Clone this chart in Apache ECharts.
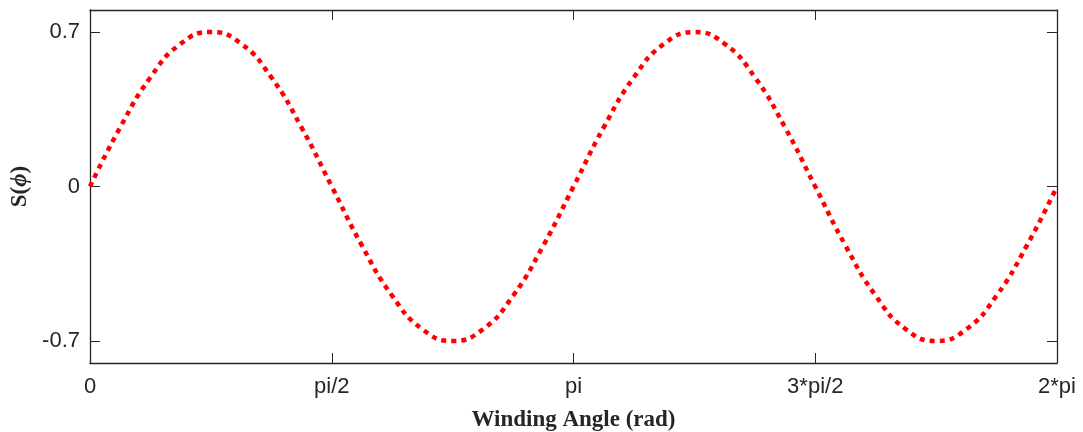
<!DOCTYPE html>
<html>
<head>
<meta charset="utf-8">
<script src="https://cdn.jsdelivr.net/npm/echarts@6/dist/echarts.min.js"></script>
<style>
  html, body { margin: 0; padding: 0; background: #fff; }
  #chart { width: 1083px; height: 432px; }
</style>
</head>
<body>
<div id="chart"></div>
<script>
// winding angle (rad), sampled every pi/16
var angles = [0, 0.196, 0.393, 0.589, 0.785, 0.982, 1.178, 1.374, 1.571, 1.767, 1.963, 2.160, 2.356,
  2.553, 2.749, 2.945, 3.142, 3.338, 3.534, 3.731, 3.927, 4.123, 4.320, 4.516, 4.712,
  4.909, 5.105, 5.301, 5.498, 5.694, 5.890, 6.087, 6.283];
// S(phi)
var sValues = [0, 0.268, 0.495, 0.647, 0.70, 0.647, 0.495, 0.268, 0, -0.268, -0.495, -0.647, -0.70,
  -0.647, -0.495, -0.268, 0, 0.268, 0.495, 0.647, 0.70, 0.647, 0.495, 0.268, 0,
  -0.268, -0.495, -0.647, -0.70, -0.647, -0.495, -0.268, 0];

var xTicks = [0, 1.5708, 3.1416, 4.7124, 6.2832];
var xTickLabels = ['0', 'pi/2', 'pi', '3*pi/2', '2*pi'];
var yTicks = [-0.7, 0, 0.7];
var yTickLabels = ['-0.7', '0', '0.7'];

var pts = [];
for (var i = 0; i < angles.length; i++) {
  pts.push([angles[i], sValues[i]]);
}

var lineCol = '#262626';
var chart = echarts.init(document.getElementById('chart'));

function xLabel(v) {
  for (var i = 0; i < xTicks.length; i++) {
    if (Math.abs(xTicks[i] - v) < 0.001) return xTickLabels[i];
  }
  return '';
}
function yLabel(v) {
  for (var i = 0; i < yTicks.length; i++) {
    if (Math.abs(yTicks[i] - v) < 0.001) return yTickLabels[i];
  }
  return '';
}

var titleFont = { fontFamily: 'Liberation Serif', fontWeight: 'bold', fontSize: 23, color: lineCol };
var tickFont = { fontFamily: 'Liberation Sans', fontSize: 22, color: lineCol };
var boxLine = { show: true, onZero: false, lineStyle: { color: lineCol, width: 1.3 } };

var option = {
  animation: false,
  grid: { left: 90, right: 26, top: 10, bottom: 69, containLabel: false, outerBoundsMode: 'none' },
  xAxis: [{
    type: 'value', min: 0, max: 6.2832,
    name: 'Winding Angle (rad)', nameLocation: 'middle', nameGap: 46,
    nameTextStyle: titleFont,
    axisLine: boxLine,
    axisTick: { show: true, inside: true, length: 10, customValues: xTicks, lineStyle: { color: lineCol } },
    axisLabel: Object.assign({ customValues: xTicks, formatter: xLabel, margin: 13 }, tickFont),
    splitLine: { show: false }
  }, {
    type: 'value', min: 0, max: 6.2832, position: 'top',
    axisLine: boxLine,
    axisTick: { show: true, inside: true, length: 10, customValues: xTicks, lineStyle: { color: lineCol } },
    axisLabel: { show: false },
    splitLine: { show: false }
  }],
  yAxis: [{
    type: 'value', min: -0.8, max: 0.8,
    name: '{n|S(}{i|ϕ}{n|)}', nameLocation: 'middle', nameGap: 57, nameRotate: 90,
    nameTextStyle: Object.assign({
      rich: {
        n: titleFont,
        i: { fontFamily: 'Liberation Serif', fontStyle: 'italic', fontWeight: 'bold', fontSize: 23, color: lineCol }
      }
    }, titleFont),
    axisLine: boxLine,
    axisTick: { show: true, inside: true, length: 10, customValues: yTicks, lineStyle: { color: lineCol } },
    axisLabel: Object.assign({ customValues: yTicks, formatter: yLabel, margin: 10 }, tickFont),
    splitLine: { show: false }
  }, {
    type: 'value', min: -0.8, max: 0.8, position: 'right',
    axisLine: boxLine,
    axisTick: { show: true, inside: true, length: 10, customValues: yTicks, lineStyle: { color: lineCol } },
    axisLabel: { show: false },
    splitLine: { show: false }
  }],
  series: [{
    type: 'line',
    data: pts,
    smooth: true,
    showSymbol: false,
    lineStyle: { color: '#ff0000', width: 4.5, type: [5, 5], cap: 'butt' }
  }]
};
chart.setOption(option);
</script>
</body>
</html>
